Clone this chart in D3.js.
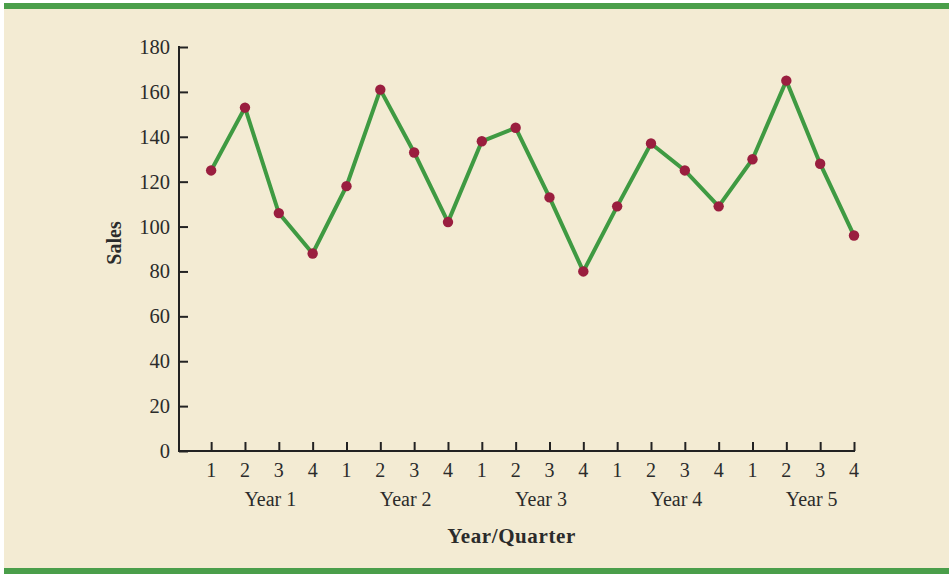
<!DOCTYPE html>
<html>
<head>
<meta charset="utf-8">
<script src="https://cdn.jsdelivr.net/npm/d3@7/dist/d3.min.js"></script>
<style>
  html, body { margin: 0; padding: 0; background: #ffffff; }
  svg { display: block; }
  text { font-family: "Liberation Serif", "Times New Roman", serif; fill: #2b2b2b; }
</style>
</head>
<body>
<svg id="chart" width="949" height="574"></svg>
<script>
// Quarterly sales, five years
const years = ["Year 1", "Year 2", "Year 3", "Year 4", "Year 5"];
const quarters = ["1", "2", "3", "4"];
const sales = [125, 153, 106, 88, 118, 161, 133, 102, 138, 144, 113, 80, 109, 137, 125, 109, 130, 165, 128, 96];
const yTicks = [0, 20, 40, 60, 80, 100, 120, 140, 160, 180];

const svg = d3.select("#chart");
const W = 949, H = 574;

// page panel and green rules
svg.append("rect").attr("x", 4).attr("y", 3).attr("width", W - 4).attr("height", H - 3).attr("fill", "#f3ebd3");
svg.append("rect").attr("x", 4).attr("y", 3).attr("width", W - 4).attr("height", 6).attr("fill", "#4a9e4a");
svg.append("rect").attr("x", 4).attr("y", 568).attr("width", W - 4).attr("height", 6).attr("fill", "#4a9e4a");

const plotLeft = 179, plotRight = 854, plotTop = 47, plotBottom = 451;
const n = sales.length;

const x = d3.scaleLinear().domain([-0.95, n - 1]).range([plotLeft, plotRight]);
const y = d3.scaleLinear().domain([0, 180]).range([plotBottom, plotTop]);

const ink = "#222";

// y axis
const yAxis = d3.axisRight(y).tickValues(yTicks).tickSize(9).tickFormat("");
const gy = svg.append("g").attr("transform", `translate(${plotLeft},0)`).call(yAxis);
gy.select(".domain").remove();
gy.selectAll(".tick line").attr("stroke", ink).attr("stroke-width", 2);
svg.append("line").attr("x1", plotLeft).attr("x2", plotLeft).attr("y1", plotTop - 1).attr("y2", plotBottom + 1)
  .attr("stroke", ink).attr("stroke-width", 2);
svg.append("g").selectAll("text").data(yTicks).join("text")
  .attr("x", plotLeft - 9).attr("y", d => y(d)).attr("dy", "0.34em")
  .attr("text-anchor", "end").attr("font-size", 20.5).text(d => d);

// x axis with quarter ticks
const idx = d3.range(n);
const xAxis = d3.axisTop(x).tickValues(idx).tickSize(9).tickFormat("");
const gx = svg.append("g").attr("transform", `translate(0,${plotBottom})`).call(xAxis);
gx.select(".domain").remove();
gx.selectAll(".tick line").attr("stroke", ink).attr("stroke-width", 2);
svg.append("line").attr("x1", plotLeft - 1).attr("x2", plotRight + 1).attr("y1", plotBottom).attr("y2", plotBottom)
  .attr("stroke", ink).attr("stroke-width", 2);

svg.append("g").selectAll("text").data(idx).join("text")
  .attr("x", i => x(i)).attr("y", 477)
  .attr("text-anchor", "middle").attr("font-size", 20)
  .text(i => quarters[i % 4]);

svg.append("g").selectAll("text").data(years).join("text")
  .attr("x", (d, k) => x(k * 4 + 1.75)).attr("y", 506)
  .attr("text-anchor", "middle").attr("font-size", 20)
  .text(d => d);

// axis titles
svg.append("text").attr("x", x((n - 1) / 2) - 21).attr("y", 543)
  .attr("text-anchor", "middle").attr("font-size", 21).attr("font-weight", "bold")
  .text("Year/Quarter").attr("letter-spacing", 0.6);
svg.append("text").attr("transform", "translate(121,243) rotate(-90)")
  .attr("text-anchor", "middle").attr("font-size", 20).attr("font-weight", "bold")
  .text("Sales");

// series line and markers
const line = d3.line().x((d, i) => x(i)).y(d => y(d));
svg.append("path").datum(sales).attr("d", line)
  .attr("fill", "none").attr("stroke", "#3f9a42").attr("stroke-width", 4)
  .attr("stroke-linejoin", "miter");
svg.append("g").selectAll("circle").data(sales).join("circle")
  .attr("cx", (d, i) => x(i)).attr("cy", d => y(d)).attr("r", 5.2)
  .attr("fill", "#9a1e3f");
</script>
</body>
</html>
